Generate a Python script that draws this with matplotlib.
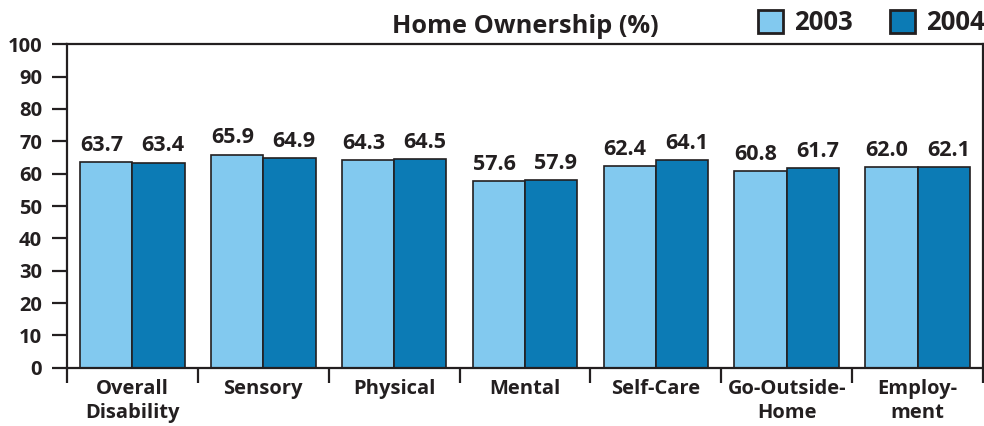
import matplotlib.pyplot as plt
import matplotlib
import matplotlib.ticker as ticker
from matplotlib.patches import Patch
import numpy as np

font = {'family': 'Open Sans', 'weight': 'bold', 'size': 14.5}
matplotlib.rc('font', **font)

ink = '#231f20'
colors = ['#82c9ef', '#0c7bb5']   # 2003, 2004

categories = ['Overall\nDisability', 'Sensory', 'Physical', 'Mental',
              'Self-Care', 'Go-Outside-\nHome', 'Employ-\nment']
years = ['2003', '2004']
own_2003 = [63.7, 65.9, 64.3, 57.6, 62.4, 60.8, 62.0]
own_2004 = [63.4, 64.9, 64.5, 57.9, 64.1, 61.7, 62.1]

fig = plt.figure(figsize=(9.84, 4.26), dpi=100)
ax = fig.add_axes([67 / 984, 58.3 / 426, 916 / 984, 323.4 / 426])

x = np.arange(len(categories))
w = 0.4
b1 = ax.bar(x - w / 2, own_2003, w, color=colors[0], edgecolor=ink, linewidth=1.2)
b2 = ax.bar(x + w / 2, own_2004, w, color=colors[1], edgecolor=ink, linewidth=1.2)

# value labels above bars, pushed towards the outer edges of each pair
for rect, v in zip(b1, own_2003):
    ax.annotate(f'{v:.1f}', (rect.get_x(), v), xytext=(0, 12),
                textcoords='offset points', ha='left', va='center',
                fontsize=15.5, color=ink)
for rect, v in zip(b2, own_2004):
    ax.annotate(f'{v:.1f}', (rect.get_x() + rect.get_width(), v), xytext=(0, 12),
                textcoords='offset points', ha='right', va='center',
                fontsize=15.5, color=ink)

ax.set_xlim(-0.5, len(categories) - 0.5)
ax.set_ylim(0, 100)
ax.yaxis.set_major_locator(ticker.MultipleLocator(10))
ax.set_xticks(x)
ax.set_xticklabels(categories, linespacing=1.25)
ax.xaxis.set_minor_locator(ticker.FixedLocator(np.arange(len(categories) + 1) - 0.5))

ax.tick_params(axis='y', which='major', direction='out', length=11, width=1.6,
               color=ink, labelcolor=ink, pad=7)
ax.tick_params(axis='x', which='major', length=0, pad=8, labelcolor=ink)
ax.tick_params(axis='x', which='minor', direction='out', length=11, width=1.6, color=ink)

for s in ax.spines.values():
    s.set_linewidth(1.6)
    s.set_color(ink)

ax.set_title('Home Ownership (%)', fontsize=18.3, fontweight='bold', color=ink, pad=8)

handles = [Patch(facecolor=c, edgecolor=ink, linewidth=2) for c in colors]
fig.legend(handles, years, loc='upper right', bbox_to_anchor=(1.006, 0.99),
           ncol=2, frameon=False, fontsize=18.5, handlelength=0.96, handleheight=0.96,
           handletextpad=0.43, columnspacing=1.47, borderaxespad=0.0,
           borderpad=0.2, labelcolor=ink)

fig.savefig('out.png', dpi=100)
